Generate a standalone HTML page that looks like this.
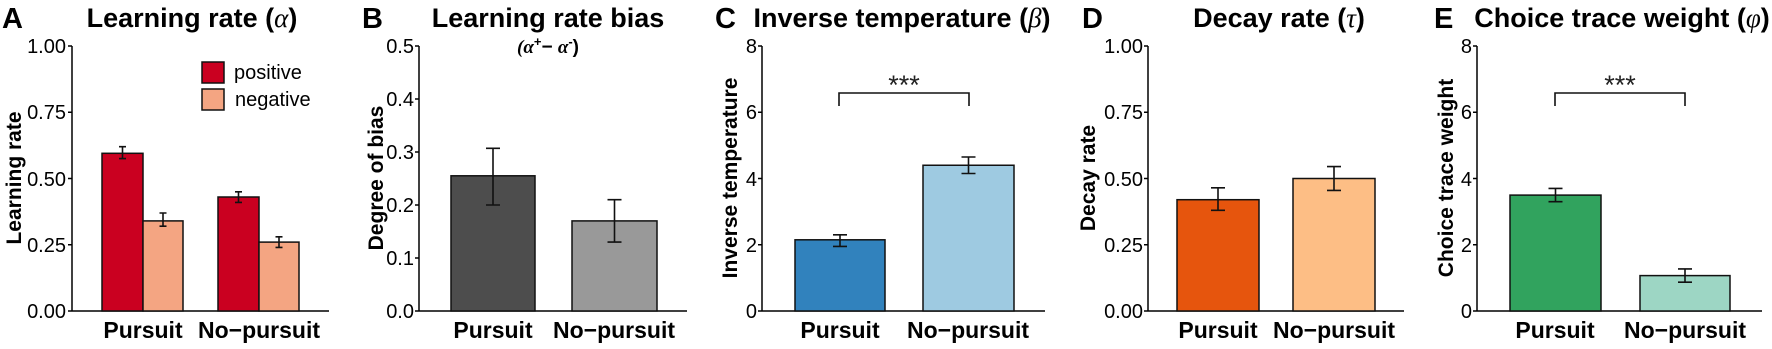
<!DOCTYPE html>
<html><head><meta charset="utf-8"><style>
html,body{margin:0;padding:0;background:#fff}
svg{display:block}
text{font-family:"Liberation Sans",Arial,sans-serif;fill:#000}
.t{font-size:20px}
.b{font-weight:bold}
.ti{font-size:27px;font-weight:bold}
.pl{font-size:29px;font-weight:bold}
.cat{font-size:23px;font-weight:bold}
.yl{font-size:21px;font-weight:bold}
.ax{stroke:#000;stroke-width:1.5;fill:none}
.bar{stroke:#111;stroke-width:1.5}
.er{stroke:#111;stroke-width:1.6;fill:none}
.g{font-family:"Liberation Serif",serif;font-style:italic;font-weight:normal}
.st{font-size:27px;fill:#222}
</style></head><body>
<svg width="1772" height="349" viewBox="0 0 1772 349" xmlns="http://www.w3.org/2000/svg">
<!-- Panel A -->
<text class="pl" x="2" y="28">A</text>
<text class="ti" x="192" y="27" text-anchor="middle">Learning rate (<tspan class="g">α</tspan>)</text>
<text class="yl" transform="translate(21,178) rotate(-90)" text-anchor="middle">Learning rate</text>
<g class="t" text-anchor="end">
<text x="66" y="318">0.00</text><text x="66" y="252">0.25</text><text x="66" y="186">0.50</text><text x="66" y="119">0.75</text><text x="66" y="53">1.00</text></g>
<path class="ax" d="M72,46V311H329M68,311H72M68,244.75H72M68,178.5H72M68,112.25H72M68,46H72"/>
<rect class="bar" x="102" y="153.3" width="41" height="157.7" fill="#ca0020"/>
<rect class="bar" x="143" y="220.9" width="40" height="90.1" fill="#f4a582"/>
<rect class="bar" x="218" y="197" width="41" height="114" fill="#ca0020"/>
<rect class="bar" x="259" y="242.1" width="40" height="68.9" fill="#f4a582"/>
<path class="er" d="M122.5,146.7V158.6M119,146.7H126M119,158.6H126M163,213V226.2M159.5,213H166.5M159.5,226.2H166.5M238.5,191.8V202.4M235,191.8H242M235,202.4H242M279,236.8V247.4M275.5,236.8H282.5M275.5,247.4H282.5"/>
<rect class="bar" x="202" y="62" width="22" height="21" fill="#ca0020"/>
<rect class="bar" x="202" y="89" width="22" height="21" fill="#f4a582"/>
<text class="t" x="234" y="79">positive</text>
<text class="t" x="235" y="106">negative</text>
<text class="cat" x="143" y="338" text-anchor="middle">Pursuit</text>
<text class="cat" x="259" y="338" text-anchor="middle">No−pursuit</text>

<!-- Panel B -->
<text class="pl" x="362" y="28">B</text>
<text class="ti" x="548" y="27" text-anchor="middle">Learning rate bias</text>
<text x="548" y="53" text-anchor="middle" style="font-size:19px;font-weight:bold"><tspan class="g" style="font-weight:bold">(α</tspan><tspan dy="-7" font-size="13">+</tspan><tspan dy="7">− </tspan><tspan class="g" style="font-weight:bold">α</tspan><tspan dy="-7" font-size="13">-</tspan><tspan dy="7">)</tspan></text>
<text class="yl" transform="translate(383,178) rotate(-90)" text-anchor="middle">Degree of bias</text>
<g class="t" text-anchor="end">
<text x="414" y="318">0.0</text><text x="414" y="265">0.1</text><text x="414" y="212">0.2</text><text x="414" y="159">0.3</text><text x="414" y="106">0.4</text><text x="414" y="53">0.5</text></g>
<path class="ax" d="M419,46V311H687M415,311H419M415,258H419M415,205H419M415,152H419M415,99H419M415,46H419"/>
<rect class="bar" x="451" y="175.8" width="84" height="135.2" fill="#4d4d4d"/>
<rect class="bar" x="572" y="220.9" width="85" height="90.1" fill="#999999"/>
<path class="er" d="M493,148.3V205M486,148.3H500M486,205H500M614.5,199.7V242.1M607.5,199.7H621.5M607.5,242.1H621.5"/>
<text class="cat" x="493" y="338" text-anchor="middle">Pursuit</text>
<text class="cat" x="614" y="338" text-anchor="middle">No−pursuit</text>

<!-- Panel C -->
<text class="pl" x="715" y="28">C</text>
<text class="ti" x="902" y="27" text-anchor="middle">Inverse temperature (<tspan class="g">β</tspan>)</text>
<text class="yl" transform="translate(737,178) rotate(-90)" text-anchor="middle">Inverse temperature</text>
<g class="t" text-anchor="end">
<text x="757" y="318">0</text><text x="757" y="252">2</text><text x="757" y="186">4</text><text x="757" y="119">6</text><text x="757" y="53">8</text></g>
<path class="ax" d="M762,46V311H1045M758,311H762M758,244.75H762M758,178.5H762M758,112.25H762M758,46H762"/>
<rect class="bar" x="795" y="239.8" width="90" height="71.2" fill="#3182bd"/>
<rect class="bar" x="923" y="165.25" width="91" height="145.75" fill="#9ecae1"/>
<path class="er" d="M840,234.8V246.4M833,234.8H847M833,246.4H847M968.5,157V173.5M961.5,157H975.5M961.5,173.5H975.5"/>
<path class="er" d="M839,106V93H969V106"/>
<text class="st" x="904" y="94" text-anchor="middle">***</text>
<text class="cat" x="840" y="338" text-anchor="middle">Pursuit</text>
<text class="cat" x="968" y="338" text-anchor="middle">No−pursuit</text>

<!-- Panel D -->
<text class="pl" x="1082" y="28">D</text>
<text class="ti" x="1279" y="27" text-anchor="middle">Decay rate (<tspan class="g">τ</tspan>)</text>
<text class="yl" transform="translate(1095,178) rotate(-90)" text-anchor="middle">Decay rate</text>
<g class="t" text-anchor="end">
<text x="1143" y="318">0.00</text><text x="1143" y="252">0.25</text><text x="1143" y="186">0.50</text><text x="1143" y="119">0.75</text><text x="1143" y="53">1.00</text></g>
<path class="ax" d="M1148,46V311H1404M1144,311H1148M1144,244.75H1148M1144,178.5H1148M1144,112.25H1148M1144,46H1148"/>
<rect class="bar" x="1177" y="199.7" width="82" height="111.3" fill="#e6550d"/>
<rect class="bar" x="1293" y="178.5" width="82" height="132.5" fill="#fdbe85"/>
<path class="er" d="M1218,187.8V210.3M1211,187.8H1225M1211,210.3H1225M1334,166.6V190.4M1327,166.6H1341M1327,190.4H1341"/>
<text class="cat" x="1218" y="338" text-anchor="middle">Pursuit</text>
<text class="cat" x="1334" y="338" text-anchor="middle">No−pursuit</text>

<!-- Panel E -->
<text class="pl" x="1434" y="28">E</text>
<text class="ti" x="1622" y="27" text-anchor="middle">Choice trace weight (<tspan class="g">φ</tspan>)</text>
<text class="yl" transform="translate(1453,178) rotate(-90)" text-anchor="middle">Choice trace weight</text>
<g class="t" text-anchor="end">
<text x="1472" y="318">0</text><text x="1472" y="252">2</text><text x="1472" y="186">4</text><text x="1472" y="119">6</text><text x="1472" y="53">8</text></g>
<path class="ax" d="M1477,46V311H1762M1473,311H1477M1473,244.75H1477M1473,178.5H1477M1473,112.25H1477M1473,46H1477"/>
<rect class="bar" x="1510" y="195.1" width="91" height="115.9" fill="#31a35e"/>
<rect class="bar" x="1640" y="275.6" width="90" height="35.4" fill="#9dd6c4"/>
<path class="er" d="M1555.5,188.4V201.7M1548.5,188.4H1562.5M1548.5,201.7H1562.5M1685,268.9V282.2M1678,268.9H1692M1678,282.2H1692"/>
<path class="er" d="M1555,106V93H1685V106"/>
<text class="st" x="1620" y="94" text-anchor="middle">***</text>
<text class="cat" x="1555" y="338" text-anchor="middle">Pursuit</text>
<text class="cat" x="1685" y="338" text-anchor="middle">No−pursuit</text>
</svg>
</body></html>
